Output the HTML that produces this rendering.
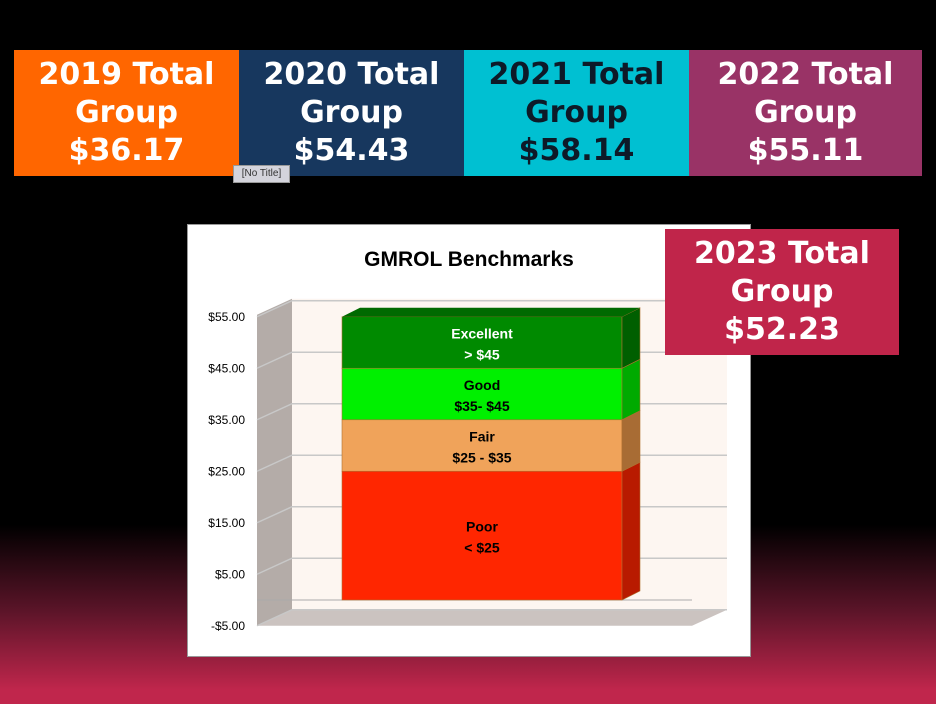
<!DOCTYPE html>
<html><head><meta charset="utf-8"><style>
body{margin:0;width:936px;height:704px;overflow:hidden;background:linear-gradient(to bottom,#000 0,#000 525px,#5a1428 610px,#c0264c 690px,#c0264c 704px);font-family:"DejaVu Sans","Liberation Sans",sans-serif;position:relative}
.box{position:absolute;top:50px;height:126px;color:#fff;font-weight:bold;font-size:30px;line-height:38px;text-align:center;box-sizing:border-box;padding-top:6px}
#tip{position:absolute;left:233px;top:165px;width:55px;height:16px;background:#d4d4dc;border:1px solid #999;font:10px "Liberation Sans",sans-serif;color:#333;text-align:center;line-height:16px}
</style></head><body>
<div class="box" style="left:14px;width:225px;background:#ff6600">2019 Total<br>Group<br>$36.17</div>
<div class="box" style="left:239px;width:225px;background:#17375e">2020 Total<br>Group<br>$54.43</div>
<div class="box" style="left:464px;width:225px;background:#00c0d2;color:#0d1a28">2021 Total<br>Group<br>$58.14</div>
<div class="box" style="left:689px;width:233px;background:#993366">2022 Total<br>Group<br>$55.11</div>
<div id="tip">[No Title]</div>
<svg id="chart" style="position:absolute;left:0;top:0" width="936" height="704"></svg>
<div class="box" style="left:665px;top:229px;width:234px;background:#c0254a">2023 Total<br>Group<br>$52.23</div>
<script>
const ticks=[-5,5,15,25,35,45,55];
const tickLabels=["-$5.00","$5.00","$15.00","$25.00","$35.00","$45.00","$55.00"];
const segNames=["Poor","Fair","Good","Excellent"];
const segLabels=["< $25","$25 - $35","$35- $45","> $45"];
const segStart=[0,25,35,45];
const segEnd=[25,35,45,55];
const segFront=["#ff2600","#f0a35a","#00f000","#008a00"];
const segSide=["#b81a00","#a86c34","#00aa00","#005f00"];
const segText=["#000","#000","#000","#fff"];
const NS="http://www.w3.org/2000/svg";
const svg=document.getElementById('chart');
function y(v){return 600-v*5.15;}
const DX=35,DY=-16;
function el(t,a,p){const e=document.createElementNS(NS,t);for(const k in a)e.setAttribute(k,a[k]);(p||svg).appendChild(e);return e;}
const frame=el('rect',{x:187.5,y:224.5,width:563,height:432,fill:'#fff',stroke:'#999'});


const title=el('text',{x:469,y:266,'text-anchor':'middle','font-family':'Liberation Sans, sans-serif','font-size':21,'font-weight':'bold',fill:'#000'});
title.textContent='GMROL Benchmarks';


const x0=257,x1=692,yTop=y(55)-2,yBot=y(-5);
// back wall
const bw=el('rect',{x:x0+DX,y:yTop+DY,width:x1-x0,height:yBot-yTop,fill:'#fdf6f1'});


// side wall
const sw=el('polygon',{points:`${x0},${yTop} ${x0+DX},${yTop+DY} ${x0+DX},${yBot+DY} ${x0},${yBot}`,fill:'#b4aca8'});


// floor
const fl=el('polygon',{points:`${x0},${yBot} ${x0+DX},${yBot+DY} ${x1+DX},${yBot+DY} ${x1},${yBot}`,fill:'#cbc3c0'});


ticks.forEach((t,i)=>{
  const g=el('polyline',{points:`${x0},${y(t)} ${x0+DX},${y(t)+DY} ${x1+DX},${y(t)+DY}`,fill:'none',stroke:'#c8c8c8','stroke-width':1.5});
  
  
  const tl=el('text',{x:245,y:y(t)+4,'text-anchor':'end','font-family':'Liberation Sans, sans-serif','font-size':12,fill:'#000'});
  tl.textContent=tickLabels[i];
  
  
});
const z=el('line',{x1:x0,y1:y(0),x2:x1,y2:y(0),stroke:'#aaa'});


const bx0=342,bx1=622,bdx=18,bdy=-9;
segNames.forEach((n,i)=>{
  const ya=y(segEnd[i]),yb=y(segStart[i]);
  const f=el('rect',{x:bx0,y:ya,width:bx1-bx0,height:yb-ya,fill:segFront[i],stroke:'#b07030','stroke-width':0.6});
  
  
  const s=el('polygon',{points:`${bx1},${ya} ${bx1+bdx},${ya+bdy} ${bx1+bdx},${yb+bdy} ${bx1},${yb}`,fill:segSide[i],stroke:'#b07030','stroke-width':0.6});
  
  
  if(i===segNames.length-1){
    const t=el('polygon',{points:`${bx0},${ya} ${bx0+bdx},${ya+bdy} ${bx1+bdx},${ya+bdy} ${bx1},${ya}`,fill:'#006a00'});
    
    
  }
  const cy=(ya+yb)/2;
  const t1=el('text',{x:(bx0+bx1)/2,y:cy-4,'text-anchor':'middle','font-family':'Liberation Sans, sans-serif','font-size':14,'font-weight':'bold',fill:segText[i]});
  t1.textContent=n;
  
  
  const t2=el('text',{x:(bx0+bx1)/2,y:cy+17,'text-anchor':'middle','font-family':'Liberation Sans, sans-serif','font-size':14,'font-weight':'bold',fill:segText[i]});
  t2.textContent=segLabels[i];
  
  
});
</script>
</body></html>
